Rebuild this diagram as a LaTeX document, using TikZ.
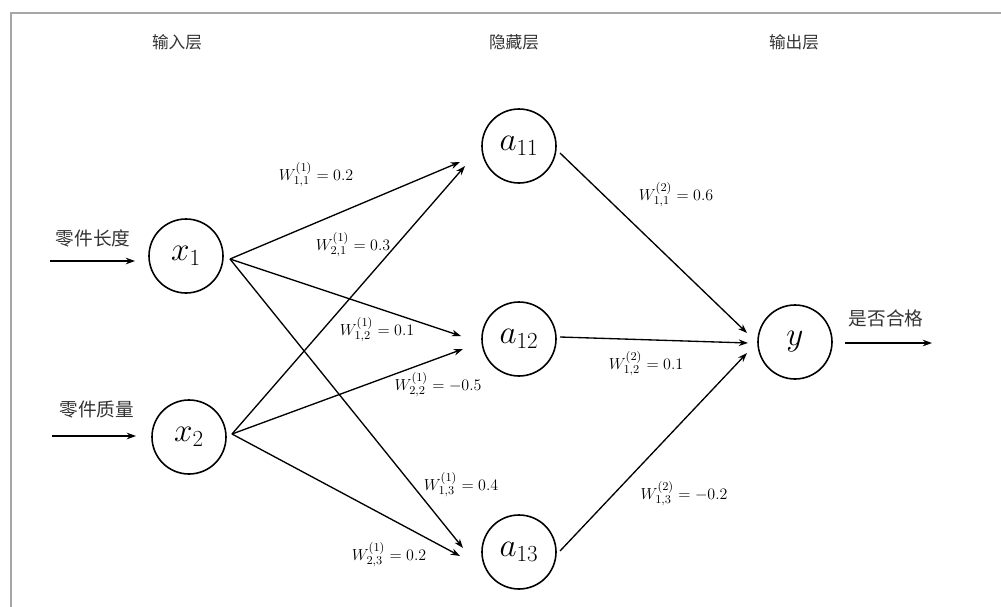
\documentclass[tikz,border=0pt]{standalone}
\usepackage{fontspec}
\newfontfamily\cjk{Noto Sans CJK SC}
\usetikzlibrary{arrows.meta}
\begin{document}
\begin{tikzpicture}[x=0.75pt,y=-0.75pt,
  neuron/.style={draw,line width=1.2pt,circle,minimum size=55.5pt,inner sep=0pt,font=\fontsize{24}{28}\selectfont},
  conn/.style={line width=1pt,-{Stealth[length=7pt,width=5pt]}},
  wlab/.style={font=\fontsize{13}{15}\selectfont,inner sep=1pt},
  cjklab/.style={font=\cjk\fontsize{14}{16}\selectfont,text=black!80},
  title/.style={font=\cjk\fontsize{12.5}{15}\selectfont,text=black!80}]
\useasboundingbox (0,0) rectangle (1001,607);
\draw[gray!70,line width=1pt] (11,607) -- (11,13) -- (1001,13);
% titles
\node[title] (t1) at (177,42) {输入层};
\node[title] (t2) at (514,42) {隐藏层};
\node[title] (t3) at (794,42) {输出层};
% neurons
\node[neuron] (x1) at (186,256) {$x_1$};
\node[neuron] (x2) at (189,437) {$x_2$};
\node[neuron] (a11) at (519,146) {$a_{11}$};
\node[neuron] (a12) at (519,339) {$a_{12}$};
\node[neuron] (a13) at (519,552) {$a_{13}$};
\node[neuron] (y) at (795,342) {$y$};
% input/output arrows
\coordinate (in1) at (50,261);
\coordinate (in1e) at (135,261);
\coordinate (in2) at (52,436);
\coordinate (in2e) at (136,436);
\coordinate (out) at (845,343);
\coordinate (oute) at (932,343);
\draw[conn] (in1) -- (in1e);
\draw[conn] (in2) -- (in2e);
\draw[conn] (out) -- (oute);
\node[cjklab] (l1) at (93,238) {零件长度};
\node[cjklab] (l2) at (97,410) {零件质量};
\node[cjklab] (l3) at (886,318) {是否合格};
% hidden-layer connectors
\coordinate (x1o) at (230,259);
\coordinate (x2o) at (232,434);
\coordinate (a11i1) at (460,162);
\coordinate (a11i2) at (465,166);
\coordinate (a12i1) at (461,336);
\coordinate (a12i2) at (463,349);
\coordinate (a13i1) at (463,548);
\coordinate (a13i2) at (460,556);
\draw[conn] (x1o) -- (a11i1);
\draw[conn] (x1o) -- (a12i1);
\draw[conn] (x1o) -- (a13i1);
\draw[conn] (x2o) -- (a11i2);
\draw[conn] (x2o) -- (a12i2);
\draw[conn] (x2o) -- (a13i2);
\coordinate (a11o) at (560,153);
\coordinate (a12o) at (560,337);
\coordinate (a13o) at (560,551);
\coordinate (yi1) at (747,333);
\coordinate (yi2) at (748,343);
\coordinate (yi3) at (747,353);
\draw[conn] (a11o) -- (yi1);
\draw[conn] (a12o) -- (yi2);
\draw[conn] (a13o) -- (yi3);
% weight labels
\node[wlab] (w111) at (316,175) {$W^{(1)}_{1,1}=0.2$};
\node[wlab] (w121) at (353,245) {$W^{(1)}_{2,1}=0.3$};
\node[wlab] (w112) at (377,330) {$W^{(1)}_{1,2}=0.1$};
\node[wlab] (w122) at (438,385) {$W^{(1)}_{2,2}=-0.5$};
\node[wlab] (w113) at (461,485) {$W^{(1)}_{1,3}=0.4$};
\node[wlab] (w123) at (389,555) {$W^{(1)}_{2,3}=0.2$};
\node[wlab] (w211) at (676,195) {$W^{(2)}_{1,1}=0.6$};
\node[wlab] (w212) at (646,364) {$W^{(2)}_{1,2}=0.1$};
\node[wlab] (w213) at (684,494) {$W^{(2)}_{1,3}=-0.2$};
\end{tikzpicture}
\end{document}
